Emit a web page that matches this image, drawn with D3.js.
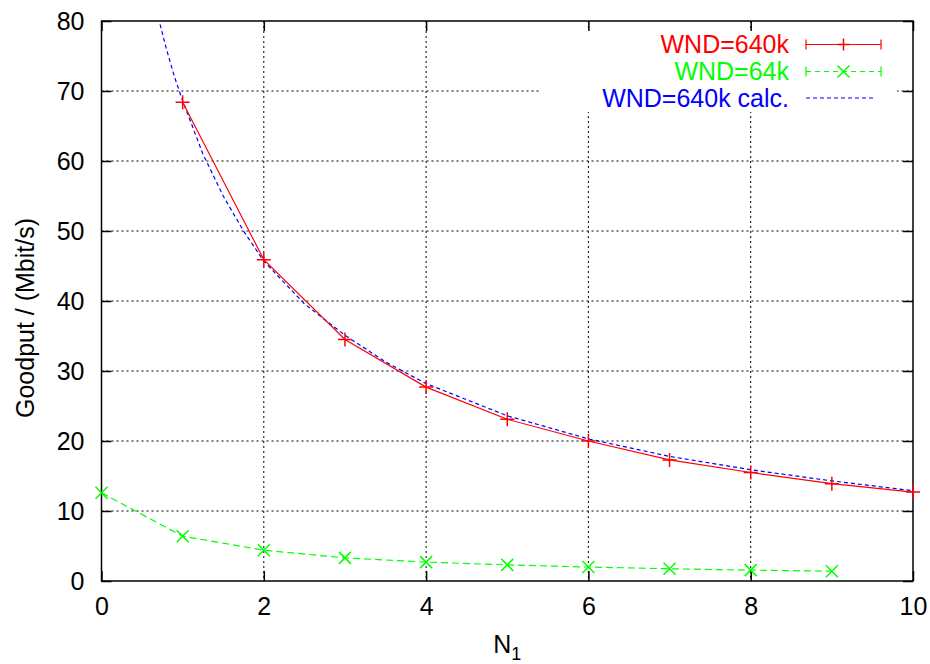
<!DOCTYPE html>
<html>
<head>
<meta charset="utf-8">
<script src="https://cdn.jsdelivr.net/npm/d3@7"></script>
<style>
  body { margin: 0; background: #fff; }
  svg text { font-family: "Liberation Sans", Arial, sans-serif; }
</style>
</head>
<body>
<svg id="chart" width="930" height="664"></svg>
<script>
// measured series
var n1 = [1, 2, 3, 4, 5, 6, 7, 8, 9, 10];
var wnd640k = [68.4, 45.9, 34.5, 27.7, 23.1, 20.0, 17.3, 15.5, 13.9, 12.7];

var n1Small = [0, 1, 2, 3, 4, 5, 6, 7, 8, 9];
var wnd64k = [12.6, 6.4, 4.4, 3.3, 2.7, 2.3, 2.0, 1.75, 1.55, 1.4];

// calculated curve
var calcX = [0.7, 0.8, 0.9, 1, 1.25, 1.5, 1.75, 2, 2.5, 3, 3.5, 4, 5, 6, 7, 8, 9, 10];
var calcY = [80.5, 76, 72, 68.6, 61, 55, 50, 45.7, 39.6, 35.1, 31.3, 28.2, 23.6, 20.3, 17.8, 15.9, 14.3, 12.9];

var xTicks = [0, 2, 4, 6, 8, 10];
var yTicks = [0, 10, 20, 30, 40, 50, 60, 70, 80];

var legendLabels = ["WND=640k", "WND=64k", "WND=640k calc."];
var legendColors = ["#ff0000", "#00ff00", "#0000ff"];

var plotL = 101.5, plotR = 913, plotT = 21, plotB = 581;
var fontSize = 25;

var svg = d3.select('#chart');
var x = d3.scaleLinear().domain([0, 10]).range([plotL, plotR]);
var y = d3.scaleLinear().domain([0, 80]).range([plotB, plotT]);

svg.append('defs').append('clipPath').attr('id', 'plot')
  .append('rect').attr('x', plotL).attr('y', plotT)
  .attr('width', plotR - plotL).attr('height', plotB - plotT);

// grid
var grid = svg.append('g').attr('stroke', '#000').attr('stroke-width', 1)
  .attr('stroke-dasharray', '2,3');
xTicks.slice(1, -1).forEach(function(t) {
  grid.append('line').attr('x1', x(t)).attr('x2', x(t))
    .attr('y1', plotT).attr('y2', plotB);
});
yTicks.slice(1, -1).forEach(function(t) {
  grid.append('line').attr('x1', plotL).attr('x2', plotR)
    .attr('y1', y(t)).attr('y2', y(t));
});

// legend box hides grid behind it
svg.append('rect').attr('x', 540).attr('y', 29).attr('width', 357).attr('height', 83)
  .attr('fill', '#fff');

// axes with inward ticks on all four sides
var tick = -10;
svg.append('g').attr('transform', 'translate(0,' + plotB + ')')
  .call(d3.axisBottom(x).tickValues(xTicks).tickSize(tick).tickPadding(16).tickFormat(d3.format('d')));
svg.append('g').attr('transform', 'translate(0,' + plotT + ')')
  .call(d3.axisTop(x).tickValues(xTicks).tickSize(tick).tickFormat(''));
svg.append('g').attr('transform', 'translate(' + plotL + ',0)')
  .call(d3.axisLeft(y).tickValues(yTicks).tickSize(tick).tickPadding(17).tickFormat(d3.format('d')));
svg.append('g').attr('transform', 'translate(' + plotR + ',0)')
  .call(d3.axisRight(y).tickValues(yTicks).tickSize(tick).tickFormat(''));

svg.selectAll('.domain').remove();
svg.selectAll('.tick line').attr('stroke', '#000').attr('stroke-width', 1.5);
svg.selectAll('.tick text').attr('font-size', fontSize).attr('fill', '#000');

svg.append('rect').attr('x', plotL).attr('y', plotT)
  .attr('width', plotR - plotL).attr('height', plotB - plotT)
  .attr('fill', 'none').attr('stroke', '#000').attr('stroke-width', 1.5);

// axis titles
svg.append('text').attr('transform', 'translate(34,' + ((plotT + plotB) / 2 + 17) + ') rotate(-90)')
  .attr('text-anchor', 'middle').attr('font-size', fontSize).text('Goodput / (Mbit/s)');
var nt = svg.append('text').attr('x', (plotL + plotR) / 2).attr('y', 653)
  .attr('text-anchor', 'middle').attr('font-size', fontSize);
nt.append('tspan').text('N');
nt.append('tspan').attr('font-size', 18).attr('dy', 7).text('1');

var line = d3.line().x(function(d) { return x(d[0]); }).y(function(d) { return y(d[1]); });
var plot = svg.append('g').attr('clip-path', 'url(#plot)');

function plus(g, cx, cy, s) {
  g.append('path').attr('d', 'M' + (cx - s) + ',' + cy + 'H' + (cx + s) + 'M' + cx + ',' + (cy - s) + 'V' + (cy + s))
    .attr('stroke', '#ff0000').attr('stroke-width', 1.5);
}
function cross(g, cx, cy, s) {
  g.append('path').attr('d', 'M' + (cx - s) + ',' + (cy - s) + 'L' + (cx + s) + ',' + (cy + s) +
    'M' + (cx - s) + ',' + (cy + s) + 'L' + (cx + s) + ',' + (cy - s))
    .attr('stroke', '#00ff00').attr('stroke-width', 1.5);
}

// calc curve
plot.append('path').datum(d3.zip(calcX, calcY)).attr('d', line)
  .attr('fill', 'none').attr('stroke', '#0000ff').attr('stroke-width', 1.2)
  .attr('stroke-dasharray', '4,3');

// WND=64k
plot.append('path').datum(d3.zip(n1Small, wnd64k)).attr('d', line)
  .attr('fill', 'none').attr('stroke', '#00ff00').attr('stroke-width', 1.2)
  .attr('stroke-dasharray', '7,4');
var gMarks = svg.append('g');
n1Small.forEach(function(v, i) { cross(gMarks, x(v), y(wnd64k[i]), 6); });

// WND=640k
plot.append('path').datum(d3.zip(n1, wnd640k)).attr('d', line)
  .attr('fill', 'none').attr('stroke', '#ff0000').attr('stroke-width', 1.2);
var rMarks = svg.append('g');
n1.forEach(function(v, i) { plus(rMarks, x(v), y(wnd640k[i]), 7); });

// legend
var lg = svg.append('g');
var rowY = [44.5, 71.5, 98];
legendLabels.forEach(function(label, i) {
  lg.append('text').attr('x', 789).attr('y', rowY[i] + 8.5).attr('text-anchor', 'end')
    .attr('font-size', fontSize).attr('fill', legendColors[i]).text(label);
});
// red sample: bar with end caps and +
lg.append('path').attr('d', 'M806,44.5H881M806,39.5V49.5M881,39.5V49.5')
  .attr('stroke', '#ff0000').attr('stroke-width', 1.2).attr('fill', 'none');
plus(lg, 843.5, 44.5, 6);
// green sample
lg.append('path').attr('d', 'M806,71.5H881').attr('stroke', '#00ff00')
  .attr('stroke-width', 1.2).attr('stroke-dasharray', '5,4');
lg.append('path').attr('d', 'M806,66.5V76.5M881,66.5V76.5').attr('stroke', '#00ff00').attr('stroke-width', 1.2);
cross(lg, 843.5, 71.5, 6);
// blue sample
lg.append('path').attr('d', 'M806,98H876').attr('stroke', '#0000ff')
  .attr('stroke-width', 1.2).attr('stroke-dasharray', '4,3');
</script>
</body>
</html>
